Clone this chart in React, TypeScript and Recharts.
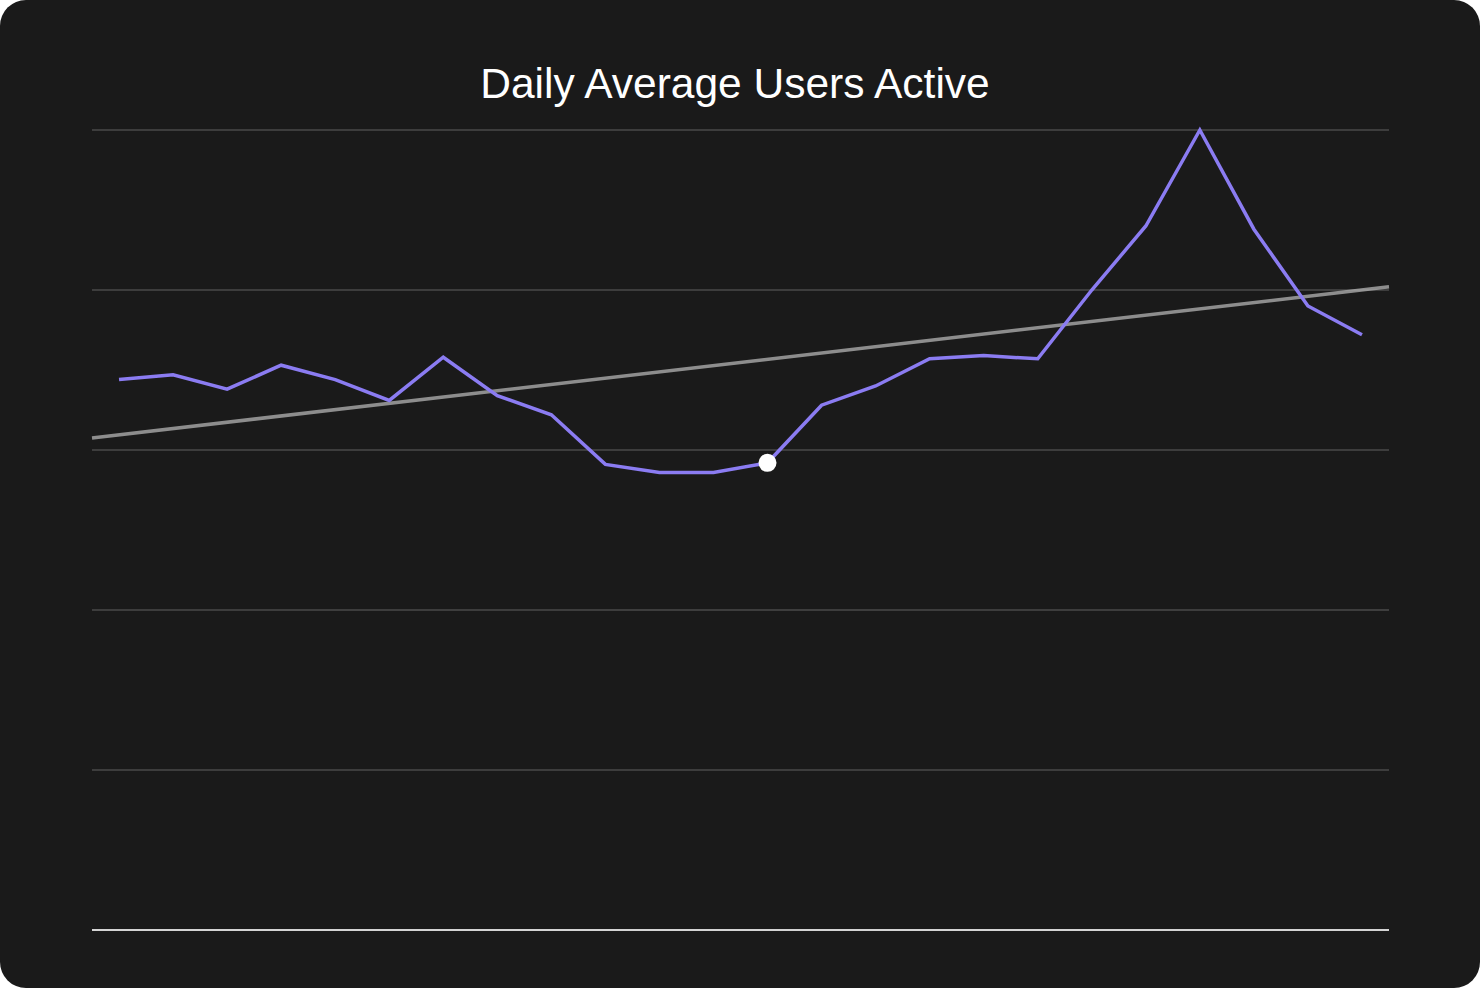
import React from 'react';
import { LineChart, Line, XAxis, YAxis, CartesianGrid, ReferenceLine, ReferenceDot } from 'recharts';

// 24 daily points, y scale 0..500 (no labels shown in the card)
const DAYS = Array.from({ length: 24 }, (_, i) => i);
const ACTIVE_USERS = [
  344, 347, 338, 353, 344, 331, 358, 334, 322, 291, 286, 286,
  292, 328, 340, 357, 359, 357, 400, 440, 500, 438, 390, 372,
];
const TREND_X = [-0.5, 23.5];
const TREND_Y = [307.5, 402];
const Y_TICKS = [0, 100, 200, 300, 400, 500];
const HIGHLIGHT_INDEX = 12;

const data = DAYS.map((d, i) => ({ day: d, users: ACTIVE_USERS[i] }));
const trendData = TREND_X.map((x, i) => ({ day: x, trend: TREND_Y[i] }));

const W = 1480;
const H = 988;

export default function App() {
  return (
    <div
      style={{
        position: 'absolute',
        left: 0,
        top: 0,
        width: W,
        height: H,
        background: '#1a1a1a',
        borderRadius: 26,
        overflow: 'hidden',
        fontFamily: '"Liberation Sans", Arial, sans-serif',
      }}
    >
      <div
        style={{
          position: 'absolute',
          top: 57,
          left: 0,
          width: W - 10,
          textAlign: 'center',
          color: '#ffffff',
          fontSize: 42.5,
          lineHeight: '54px',
        }}
      >
        Daily Average Users Active
      </div>
      <LineChart
        width={W}
        height={H}
        data={data}
        margin={{ top: 130, right: 91, bottom: 58, left: 92 }}
        style={{ position: 'absolute', left: 0, top: 0 }}
      >
        <CartesianGrid vertical={false} stroke="#4a4a4a" strokeWidth={1.5} />
        <XAxis dataKey="day" type="number" domain={[-0.5, 23.5]} hide />
        <YAxis domain={[0, 500]} ticks={Y_TICKS} hide />
        <ReferenceLine y={0} stroke="#d4d4d4" strokeWidth={2} />
        <Line
          data={trendData}
          dataKey="trend"
          stroke="rgba(180,180,180,0.75)"
          strokeWidth={3.5}
          dot={false}
          activeDot={false}
          isAnimationActive={false}
        />
        <Line
          dataKey="users"
          stroke="#8b7cf2"
          strokeWidth={3.5}
          dot={false}
          activeDot={false}
          isAnimationActive={false}
        />
        <ReferenceDot
          x={DAYS[HIGHLIGHT_INDEX]}
          y={ACTIVE_USERS[HIGHLIGHT_INDEX]}
          r={9}
          fill="#ffffff"
          stroke="none"
        />
      </LineChart>
    </div>
  );
}
